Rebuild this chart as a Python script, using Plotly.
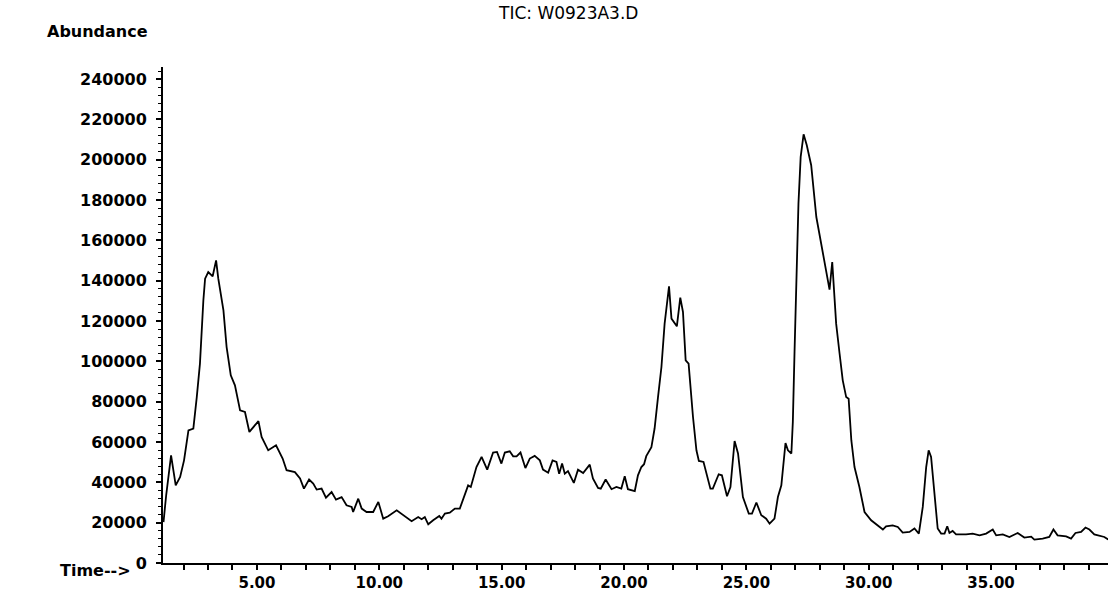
import plotly.graph_objects as go

# ── TIC trace (time in min, abundance in counts) ─────────────────────────────
time_min = [
    1.18, 1.29, 1.49, 1.68, 1.86, 2.02, 2.20, 2.40, 2.54, 2.67,
    2.81, 2.88, 3.01, 3.19, 3.33, 3.42, 3.63, 3.76, 3.93, 4.10,
    4.31, 4.51, 4.69, 4.85, 5.06, 5.19, 5.46, 5.78, 6.05, 6.21,
    6.55, 6.76, 6.92, 7.13, 7.30, 7.44, 7.64, 7.82, 8.05, 8.23,
    8.46, 8.66, 8.87, 8.93, 9.14, 9.28, 9.48, 9.75, 9.96, 10.16,
    10.36, 10.71, 10.98, 11.32, 11.59, 11.73, 11.86, 12.00, 12.20, 12.45,
    12.54, 12.68, 12.88, 13.09, 13.29, 13.50, 13.63, 13.74, 13.97, 14.18,
    14.41, 14.65, 14.81, 14.99, 15.13, 15.33, 15.47, 15.61, 15.77, 15.97,
    16.15, 16.35, 16.56, 16.69, 16.90, 17.08, 17.24, 17.35, 17.47, 17.58,
    17.71, 17.95, 18.12, 18.33, 18.60, 18.73, 18.94, 19.05, 19.25, 19.49,
    19.69, 19.89, 20.03, 20.16, 20.44, 20.57, 20.71, 20.82, 20.91, 21.12,
    21.25, 21.39, 21.53, 21.66, 21.84, 21.94, 22.16, 22.30, 22.41, 22.52,
    22.64, 22.82, 22.96, 23.06, 23.25, 23.53, 23.63, 23.87, 24.00, 24.21,
    24.35, 24.52, 24.66, 24.86, 25.10, 25.23, 25.41, 25.61, 25.81, 25.95,
    26.15, 26.29, 26.43, 26.60, 26.70, 26.84, 26.90, 26.97, 27.06, 27.13,
    27.22, 27.34, 27.47, 27.65, 27.86, 27.99, 28.20, 28.40, 28.51, 28.60,
    28.67, 28.81, 28.94, 29.08, 29.18, 29.29, 29.42, 29.62, 29.83, 30.10,
    30.31, 30.44, 30.58, 30.71, 30.98, 31.19, 31.39, 31.67, 31.87, 32.05,
    32.21, 32.35, 32.45, 32.55, 32.69, 32.82, 32.96, 33.10, 33.21, 33.30,
    33.43, 33.57, 33.98, 34.25, 34.53, 34.80, 35.07, 35.21, 35.48, 35.75,
    36.09, 36.36, 36.64, 36.77, 37.11, 37.38, 37.55, 37.72, 38.07, 38.27,
    38.45, 38.68, 38.86, 39.02, 39.22, 39.42, 39.63, 39.79,
]
abundance = [
    20300, 33600, 53400, 38500, 42700, 50900, 65800, 66700, 82300, 98900,
    130300, 141000, 144300, 142200, 150100, 141000, 125300, 107100, 93100, 88100,
    75700, 74900, 65000, 67500, 70400, 62500, 55900, 58400, 51800, 46000,
    45100, 41900, 36900, 41400, 39400, 36400, 36900, 32400, 35200, 31400,
    32700, 28600, 27800, 25300, 31900, 27000, 25300, 25300, 30300, 22000,
    23200, 26100, 23700, 20700, 22800, 21700, 22800, 19200, 21200, 23300,
    22000, 24500, 25000, 27000, 27000, 34400, 38500, 37700, 47600, 52600,
    46300, 54800, 55100, 49300, 54800, 55400, 52900, 52900, 54800, 47100,
    51800, 53100, 50900, 46300, 44800, 50900, 50100, 44300, 49300, 44300,
    45600, 39700, 46300, 44600, 48800, 41900, 37200, 36900, 41400, 36600,
    37700, 36900, 43000, 36600, 35700, 43500, 47600, 49000, 53000, 57500,
    66700, 82300, 97200, 118700, 137200, 121200, 117400, 131600, 124500, 100500,
    98900, 72400, 55900, 50600, 50100, 36900, 36900, 44000, 43500, 33100,
    37700, 60500, 54300, 32700, 24500, 24500, 30000, 23700, 22000, 19500,
    22000, 32700, 38500, 59500, 55900, 54300, 70000, 105000, 145200, 178300,
    201400, 212600, 207200, 197300, 171600, 163400, 150100, 135600, 149300, 133600,
    118700, 103900, 90600, 82300, 81500, 60900, 47600, 37700, 25300, 21200,
    19200, 17600, 16600, 18200, 18700, 17900, 15100, 15400, 17100, 14600,
    27800, 47600, 55900, 52600, 32700, 17100, 14600, 14600, 18200, 14900,
    15900, 14200, 14200, 14600, 13700, 14600, 16600, 13700, 14200, 12900,
    14900, 12600, 13100, 11600, 12100, 12900, 16600, 13700, 13200, 12100,
    14900, 15400, 17600, 16600, 14200, 13700, 12900, 11600,
]

x_ticks = [5, 10, 15, 20, 25, 30, 35]
y_ticks = [0, 20000, 40000, 60000, 80000, 100000, 120000,
           140000, 160000, 180000, 200000, 220000, 240000]

FONT = "DejaVu Sans"
tick_font = dict(family=FONT, size=16, color="black", weight="bold")

fig = go.Figure()
fig.add_trace(go.Scatter(
    x=time_min, y=abundance, mode="lines",
    line=dict(color="black", width=1.8),
    showlegend=False, hoverinfo="skip",
))

fig.update_xaxes(
    range=[1.16, 39.78], showgrid=False, zeroline=False, automargin=False,
    showline=True, linecolor="black", linewidth=2,
    tickvals=x_ticks, tickformat=".2f",
    ticks="outside", ticklen=5, tickwidth=1.5, tickcolor="black",
    minor=dict(dtick=1, tick0=0, ticks="outside", ticklen=5,
               tickwidth=1.5, tickcolor="black"),
    tickfont=dict(family=FONT, size=15, color="black", weight="bold"),
    ticklabelstandoff=0,
)
fig.update_yaxes(
    range=[0, 246000], showgrid=False, zeroline=False, automargin=False,
    showline=True, linecolor="black", linewidth=2,
    tickvals=y_ticks, tickformat="d",
    ticks="outside", ticklen=5, tickwidth=1.5, tickcolor="black",
    minor=dict(dtick=4000, tick0=0, ticks="outside", ticklen=3,
               tickwidth=1.2, tickcolor="black"),
    tickfont=tick_font, ticklabelstandoff=6,
)

fig.add_annotation(text="TIC: W0923A3.D", xref="paper", yref="paper",
                   x=0.4286, y=1.109, xanchor="center", yanchor="middle",
                   showarrow=False,
                   font=dict(family=FONT, size=17, color="black"))
fig.add_annotation(text="Abundance", xref="paper", yref="paper",
                   x=-0.0138, y=1.0706, xanchor="right", yanchor="middle",
                   showarrow=False,
                   font=dict(family=FONT, size=16, color="black", weight="bold"))
fig.add_annotation(text="Time-->", xref="paper", yref="paper",
                   x=-0.0317, y=-0.016, xanchor="right", yanchor="middle",
                   showarrow=False,
                   font=dict(family=FONT, size=16, color="black", weight="bold"))

fig.update_layout(
    width=1111, height=598,
    margin=dict(l=163, r=3, t=67, b=35),
    paper_bgcolor="white", plot_bgcolor="white",
)

# drop the browser's default 8px body margin so the figure sits at (0, 0)
fig.write_html("out.html",
               config={"displayModeBar": False},
               post_script="document.body.style.margin='0';"
                           "document.body.style.overflow='hidden';")
